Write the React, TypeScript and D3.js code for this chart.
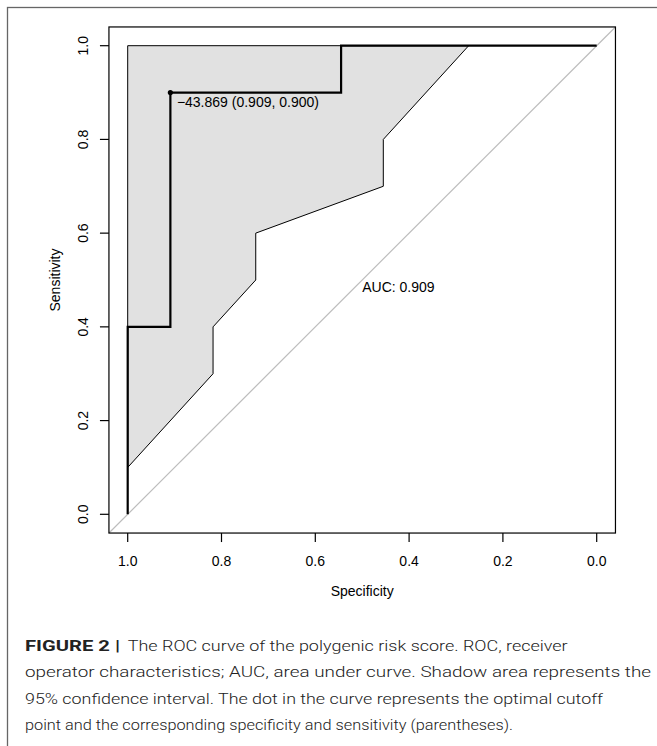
import React from "react";
import * as d3 from "d3";

// ROC curve (specificity, sensitivity)
const rocSpec = [1, 1, 0.909, 0.909, 0.545, 0.545, 0];
const rocSens = [0, 0.4, 0.4, 0.9, 0.9, 1, 1];

// 95% CI band: lower bound of sensitivity at specificities; upper bound = 1
const ciSpec = [1, 0.818, 0.818, 0.727, 0.727, 0.455, 0.455, 0.273];
const ciLower = [0.1, 0.3, 0.4, 0.5, 0.6, 0.7, 0.8, 1.0];
const ciUpperSpec = [0.273, 1];
const ciUpper = [1, 1];

const xTicks = [1.0, 0.8, 0.6, 0.4, 0.2, 0.0];
const yTicks = [0.0, 0.2, 0.4, 0.6, 0.8, 1.0];

const optSpec = 0.909;
const optSens = 0.9;
const optLabel = "\u221243.869 (0.909, 0.900)";
const aucLabel = "AUC: 0.909";

const captionBold = "FIGURE 2 |";
const captionLines = [
  "The ROC curve of the polygenic risk score. ROC, receiver",
  "operator characteristics; AUC, area under curve. Shadow area represents the",
  "95% confidence interval. The dot in the curve represents the optimal cutoff",
  "point and the corresponding specificity and sensitivity (parentheses).",
];

export default function App() {
  const W = 657;
  const H = 746;
  const x = d3.scaleLinear().domain([1, 0]).range([127.7, 596.7]);
  const y = d3.scaleLinear().domain([0, 1]).range([514.3, 45.7]);
  const bx0 = x(1.04), bx1 = x(-0.04), by0 = y(1.04), by1 = y(-0.04);

  const line = d3
    .line<[number, number]>()
    .x((d) => x(d[0]))
    .y((d) => y(d[1]));

  const rocPts: [number, number][] = rocSpec.map((s, i) => [s, rocSens[i]]);
  const bandPts: [number, number][] = [
    ...ciUpperSpec.map((s, i) => [s, ciUpper[i]] as [number, number]).reverse(),
    ...ciSpec.map((s, i) => [s, ciLower[i]] as [number, number]),
  ];
  // bandPts: (1,1) -> (0.273,1) ... need order: upper from 1 to 0.273, then lower from 0.273 back to 1
  const upper: [number, number][] = [
    [ciUpperSpec[1], ciUpper[1]],
    [ciUpperSpec[0], ciUpper[0]],
  ];
  const lower: [number, number][] = ciSpec
    .map((s, i) => [s, ciLower[i]] as [number, number])
    .reverse();
  const polyPts = [...upper, ...lower];
  void bandPts;

  const font = "'Liberation Sans', Arial, Helvetica, sans-serif";
  const capFont = "Roboto, 'Liberation Sans', sans-serif";
  const lineWidths = [440, 626, 578, 488];
  const lineStarts = [127.7, 25, 25, 25];

  return (
    <svg
      width={W}
      height={H}
      style={{ position: "absolute", left: 0, top: 0, background: "#fff" }}
      fontFamily={font}
    >
      <rect x={0} y={0} width={W} height={H} fill="#fff" />
      {/* outer frame (continues beyond right/bottom edges) */}
      <rect x={7.5} y={7.5} width={W + 50} height={H + 50} fill="none" stroke="#666" strokeWidth={1.3} />

      {/* diagonal reference */}
      <line x1={x(1.04)} y1={y(-0.04)} x2={x(-0.04)} y2={y(1.04)} stroke="#bdbdbd" strokeWidth={1.2} />

      {/* CI band */}
      <path d={line(polyPts) + "Z"} fill="#e1e1e1" stroke="#000" strokeWidth={1} />

      {/* ROC curve */}
      <path d={line(rocPts) || ""} fill="none" stroke="#000" strokeWidth={2.2} />

      {/* optimal point */}
      <circle cx={x(optSpec)} cy={y(optSens)} r={2.6} fill="#000" />
      <text x={x(optSpec) + 6.5} y={y(optSens) + 14.5} fontSize={14} fill="#000">
        {optLabel}
      </text>
      <text x={x(0.5)} y={y(0.5) + 11.5} fontSize={14} fill="#000">
        {aucLabel}
      </text>

      {/* plot box */}
      <rect x={bx0} y={by0} width={bx1 - bx0} height={by1 - by0} fill="none" stroke="#000" strokeWidth={1.2} />

      {/* x axis ticks */}
      {xTicks.map((t) => (
        <g key={"x" + t}>
          <line x1={x(t)} x2={x(t)} y1={by1} y2={by1 + 9} stroke="#000" strokeWidth={1.2} />
          <text x={x(t)} y={566} fontSize={14} textAnchor="middle" fill="#000">
            {t.toFixed(1)}
          </text>
        </g>
      ))}
      {/* y axis ticks */}
      {yTicks.map((t) => (
        <g key={"y" + t}>
          <line x1={bx0 - 9} x2={bx0} y1={y(t)} y2={y(t)} stroke="#000" strokeWidth={1.2} />
          <text
            transform={`translate(88,${y(t)}) rotate(-90)`}
            fontSize={14}
            textAnchor="middle"
            fill="#000"
          >
            {t.toFixed(1)}
          </text>
        </g>
      ))}
      <text x={(bx0 + bx1) / 2} y={596} fontSize={14} textAnchor="middle" fill="#000">
        Specificity
      </text>
      <text
        transform={`translate(60,${(by0 + by1) / 2}) rotate(-90)`}
        fontSize={14}
        textAnchor="middle"
        fill="#000"
      >
        Sensitivity
      </text>

      {/* caption */}
      <text x={25} y={650.7} fontFamily={capFont} fontWeight={700} fontSize={15.5} fill="#222" textLength={95} lengthAdjust="spacingAndGlyphs">
        {captionBold}
      </text>
      {captionLines.map((l, i) => (
        <text
          key={i}
          x={lineStarts[i]}
          y={650.7 + i * 26.4}
          fontFamily={capFont}
          fontWeight={300}
          fontSize={15.5}
          fill="#222"
          textLength={lineWidths[i]}
          lengthAdjust="spacingAndGlyphs"
        >
          {l}
        </text>
      ))}
    </svg>
  );
}
